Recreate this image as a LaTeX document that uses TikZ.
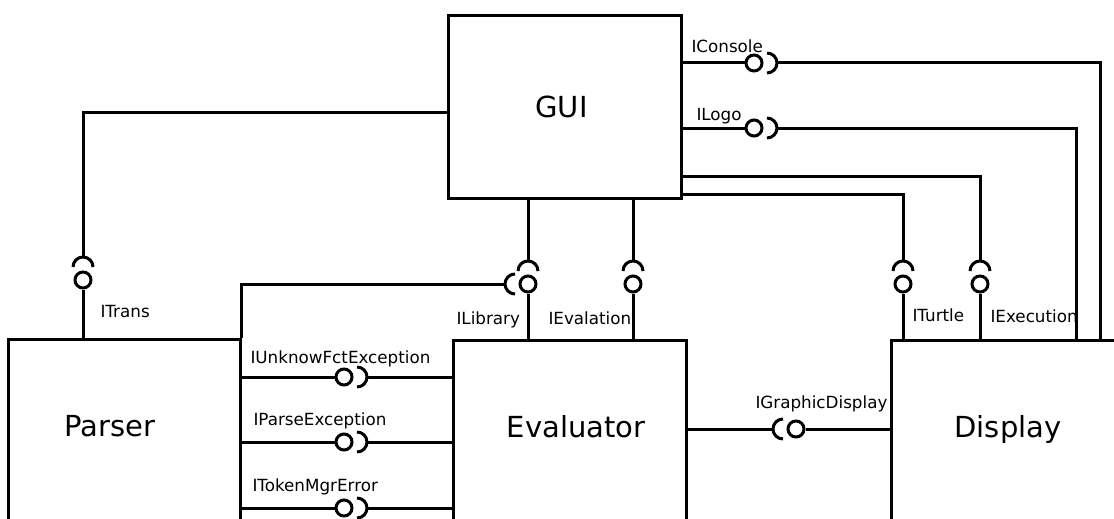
\documentclass[tikz,border=0pt]{standalone}
\usepackage{fontspec}
\setmainfont{DejaVu Sans}

\begin{document}
\begin{tikzpicture}[x=1pt, y=1pt, line width=3pt,
    component/.style={draw, rectangle, inner sep=0pt, minimum width=233pt,
      font=\fontsize{29}{33}\selectfont},
    lowcomponent/.style={component, anchor=north, text height=97pt, text depth=130pt},
    ball/.style={circle, draw, fill=white, inner sep=0pt, minimum size=16pt},
    iface/.style={anchor=base west, inner sep=0pt, font=\fontsize{16.75}{19}\selectfont}]
      \pgfmathsetmacro{\sockr}{10};

      \useasboundingbox (0,0) rectangle (1114,-519);

      % components
      \node[component, minimum height=182pt] (gui) at (565,-107) {\hspace*{-7pt}GUI};
      \node[lowcomponent, minimum width=232pt] (parser) at (124,-338) {\hspace*{-28pt}Parser};
      \node[lowcomponent] (evaluator) at (569.5,-339) {\hspace*{13pt}Evaluator};
      \node[lowcomponent, minimum width=234pt] (display) at (1008,-339) {Display};

      % provided interfaces
      \node[ball] (bTrans) at (83,-280) {};
      \node[ball] (bLib) at (528,-284) {};
      \node[ball] (bEval) at (633,-284) {};
      \node[ball] (bTurtle) at (903,-284) {};
      \node[ball] (bExec) at (980,-284) {};
      \node[ball] (bConsole) at (754,-63) {};
      \node[ball] (bLogo) at (754,-128) {};
      \node[ball] (bUnknow) at (344,-377) {};
      \node[ball] (bParse) at (344,-442) {};
      \node[ball] (bToken) at (344,-508) {};
      \node[ball] (bGraphic) at (796,-429) {};

      % required interfaces
      \coordinate (sTrans) at (83,-257);
      \coordinate (sLib) at (528,-261);
      \coordinate (sLibL) at (505,-284);
      \coordinate (sEval) at (633,-261);
      \coordinate (sTurtle) at (903,-261);
      \coordinate (sExec) at (980,-261);
      \coordinate (sConsole) at (777,-63);
      \coordinate (sLogo) at (777,-128);
      \coordinate (sUnknow) at (367,-377);
      \coordinate (sParse) at (367,-442);
      \coordinate (sToken) at (367,-508);
      \coordinate (sGraphic) at (773,-429);

      \draw (sTrans) ++(-\sockr,-\sockr) arc[start angle=180, end angle=0, radius=\sockr];
      \draw (sLib) ++(-\sockr,-\sockr) arc[start angle=180, end angle=0, radius=\sockr];
      \draw (sEval) ++(-\sockr,-\sockr) arc[start angle=180, end angle=0, radius=\sockr];
      \draw (sTurtle) ++(-\sockr,-\sockr) arc[start angle=180, end angle=0, radius=\sockr];
      \draw (sExec) ++(-\sockr,-\sockr) arc[start angle=180, end angle=0, radius=\sockr];
      \draw (sConsole) ++(-\sockr,-\sockr) arc[start angle=-90, end angle=90, radius=\sockr];
      \draw (sLogo) ++(-\sockr,-\sockr) arc[start angle=-90, end angle=90, radius=\sockr];
      \draw (sUnknow) ++(-\sockr,-\sockr) arc[start angle=-90, end angle=90, radius=\sockr];
      \draw (sParse) ++(-\sockr,-\sockr) arc[start angle=-90, end angle=90, radius=\sockr];
      \draw (sToken) ++(-\sockr,-\sockr) arc[start angle=-90, end angle=90, radius=\sockr];
      \draw (sLibL) ++(\sockr,\sockr) arc[start angle=90, end angle=270, radius=\sockr];
      \draw (sGraphic) ++(\sockr,\sockr) arc[start angle=90, end angle=270, radius=\sockr];

      % wires
      \draw ([yshift=-5pt]gui.west) -| (sTrans);
      \draw (bTrans) -- (bTrans |- parser.north);

      \draw (gui.south -| sLib) -- (sLib);
      \draw (bLib) -- (bLib |- evaluator.north);
      \draw (parser.north east) |- (sLibL);
      \draw (gui.south -| sEval) -- (sEval);
      \draw (bEval) -- (bEval |- evaluator.north);

      \draw ([yshift=5pt]gui.south east) -| (sTurtle);
      \draw (bTurtle) -- (bTurtle |- display.north);
      \draw ([yshift=23pt]gui.south east) -| (sExec);
      \draw (bExec) -- (bExec |- display.north);

      \draw (gui.east |- bConsole) -- (bConsole);
      \draw (sConsole) -| ([xshift=211pt]display.north west);
      \draw (gui.east |- bLogo) -- (bLogo);
      \draw (sLogo) -| ([xshift=187pt]display.north west);

      \draw (parser.east |- bUnknow) -- (bUnknow);
      \draw (sUnknow) -- (evaluator.west |- sUnknow);
      \draw (parser.east |- bParse) -- (bParse);
      \draw (sParse) -- (evaluator.west |- sParse);
      \draw (parser.east |- bToken) -- (bToken);
      \draw (sToken) -- (evaluator.west |- sToken);

      \draw (evaluator.east |- sGraphic) -- (sGraphic);
      \draw (bGraphic) -- (display.west |- bGraphic);

      % interface names
      \node[iface] (lConsole) at (690,-53) {IConsole};
      \node[iface] (lLogo) at (695,-120) {ILogo};
      \node[iface] (lTrans) at (99,-317) {ITrans};
      \node[iface] (lLib) at (455,-324) {ILibrary};
      \node[iface] (lEval) at (547,-324) {IEvalation};
      \node[iface] (lTurtle) at (911,-321) {ITurtle};
      \node[iface] (lExec) at (989,-322) {IExecution};
      \node[iface] (lUnknow) at (249,-363) {IUnknowFctException};
      \node[iface] (lParse) at (252,-425) {IParseException};
      \node[iface] (lToken) at (251,-491) {ITokenMgrError};
      \node[iface] (lGraphic) at (754,-408) {IGraphicDisplay};
\end{tikzpicture}
\end{document}
